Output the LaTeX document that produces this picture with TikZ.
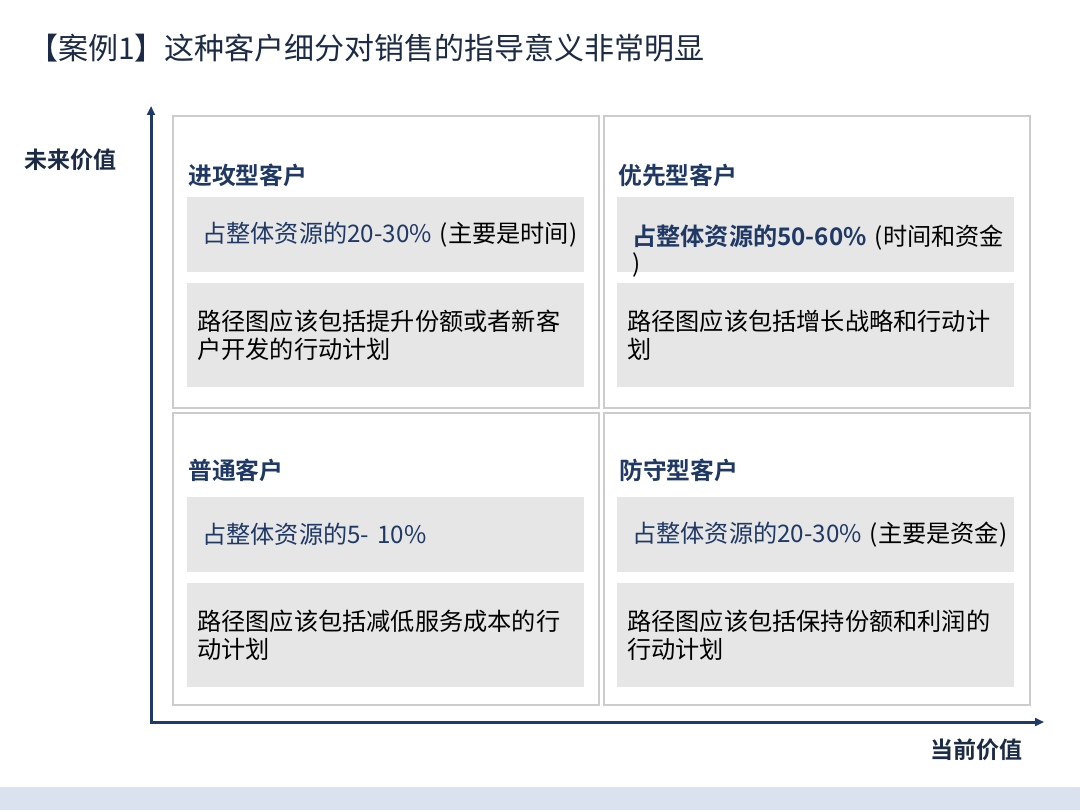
\documentclass[tikz,border=0pt]{standalone}
\usepackage{fontspec}
\setmainfont{Noto Sans CJK SC}[BoldFont={Noto Sans CJK SC Bold}]
\usetikzlibrary{arrows.meta}
\definecolor{navy}{HTML}{1F3864}
\definecolor{titlecol}{HTML}{1C2B45}
\definecolor{axiscol}{HTML}{1F3A68}
\definecolor{quadborder}{HTML}{CCCCCC}
\definecolor{boxfill}{HTML}{E6E6E6}
\definecolor{bandcol}{HTML}{DBE2EF}
\begin{document}
\begin{tikzpicture}[x=1pt,y=-1pt,
  quad/.style={draw=quadborder, line width=1.6pt, fill=white, anchor=north west,
    minimum width=426pt, minimum height=292pt, inner sep=0pt},
  gboxa/.style={fill=boxfill, anchor=north west, minimum width=397pt, minimum height=75pt,
    text width=367pt, inner xsep=15pt, inner ysep=0pt, align=left,
    font=\fontsize{24.2pt}{27pt}\selectfont},
  gboxb/.style={fill=boxfill, anchor=north west, minimum width=397pt, minimum height=104pt,
    text width=377pt, inner xsep=10pt, inner ysep=0pt, align=left,
    font=\fontsize{24.2pt}{28.5pt}\selectfont},
  head/.style={anchor=west, inner sep=0pt, text=navy, font=\fontsize{23.8pt}{27pt}\selectfont\bfseries},
  axislabel/.style={inner sep=0pt, text=titlecol, font=\fontsize{23pt}{27pt}\selectfont\bfseries},
  axis/.style={draw=axiscol, line width=3pt, {Triangle[length=9pt,width=8pt]}-{Triangle[length=9pt,width=8pt]}}
]
\fill[white] (0,0) rectangle (1080,810);
\useasboundingbox (0,0) rectangle (1080,810);
\fill[bandcol] (0,787) rectangle (1080,810);

% title
\node[anchor=west, inner sep=0pt, text=titlecol, font=\fontsize{30pt}{34pt}\selectfont] (title) at (28,48)
  {【案例1】这种客户细分对销售的指导意义非常明显};

% quadrants
\node[quad] (q1) at (172,115) {};
\node[quad] (q2) at (603,115) {};
\node[quad] (q3) at (172,412) {};
\node[quad] (q4) at (603,412) {};

% headings
\node[head] (h1) at (188,175) {进攻型客户};
\node[head] (h2) at (618,175) {优先型客户};
\node[head] (h3) at (188,470) {普通客户};
\node[head] (h4) at (619,470) {防守型客户};

% grey boxes
\node[gboxa] (b1a) at (187,197) {\mbox{\textcolor{navy}{占整体资源的20-30\%}~(主要是时间)}};
\node[gboxb] (b1b) at (187,283) {路径图应该包括提升份额或者新客\\户开发的行动计划};

\node[gboxa, text height=48pt, text depth=27pt] (b2a) at (617,197)
  {\mbox{\textcolor{navy}{\bfseries 占整体资源的50-60\%}~(时间和资金}\\)};
\node[gboxb] (b2b) at (617,283) {路径图应该包括增长战略和行动计\\划};

\node[gboxa] (b3a) at (187,497) {\mbox{\textcolor{navy}{占整体资源的5-~10\%}}};
\node[gboxb] (b3b) at (187,583) {路径图应该包括减低服务成本的行\\动计划};

\node[gboxa] (b4a) at (617,497) {\mbox{\textcolor{navy}{占整体资源的20-30\%}~(主要是资金)}};
\node[gboxb] (b4b) at (617,583) {路径图应该包括保持份额和利润的\\行动计划};

% axes
\coordinate (ytop) at (151,106);
\coordinate (origin) at (151,722);
\coordinate (xend) at (1044,722);
\draw[axis] (ytop) -- (origin) -- (xend);

\node[axislabel] (ylab) at (70,160) {未来价值};
\node[axislabel] (xlab) at (976,750) {当前价值};
\end{tikzpicture}
\end{document}
